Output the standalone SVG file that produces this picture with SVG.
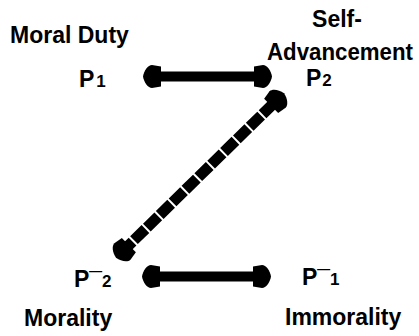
<svg xmlns="http://www.w3.org/2000/svg" width="419" height="336" viewBox="0 0 419 336">
<style>
.lbl{font-family:"Liberation Sans",Arial,sans-serif;font-weight:bold;font-size:23px;fill:#000}
.p{font-family:"Liberation Sans",Arial,sans-serif;font-weight:bold;font-size:23px;fill:#000}
.sub{font-size:17px}
.solid{stroke:#000;stroke-width:10;fill:none}
.dash{stroke:#000;stroke-width:11;fill:none;stroke-dasharray:16 2}
</style>
<defs>
<marker id="head" markerUnits="userSpaceOnUse" viewBox="-19 -12 20 24" refX="-14" refY="0" markerWidth="20" markerHeight="24" orient="auto-start-reverse">
<path d="M0,0 C-1,-6 -5,-11.5 -9,-11.5 L-18,-10 L-18,10 L-9,11.5 C-5,11.5 -1,6 0,0 Z" fill="#000"/>
</marker>
</defs>
<rect width="419" height="336" fill="#fff"/>
<g id="connectors">
<line class="solid" x1="157" y1="76.5" x2="258" y2="76.5" marker-start="url(#head)" marker-end="url(#head)"/>
<line class="solid" x1="156" y1="276.5" x2="257" y2="276.5" marker-start="url(#head)" marker-end="url(#head)"/>
<line class="dash" x1="274" y1="103" x2="126" y2="248" marker-start="url(#head)" marker-end="url(#head)"/>
</g>
<g id="node-p1">
<text class="lbl" x="10" y="43">Moral Duty</text>
<text class="p" x="79" y="87">P<tspan class="sub" dx="2">1</tspan></text>
</g>
<g id="node-p2">
<text class="lbl" x="337" y="27" text-anchor="middle">Self-</text>
<text class="lbl" x="340" y="60" text-anchor="middle" textLength="146" lengthAdjust="spacingAndGlyphs">Advancement</text>
<text class="p" x="306" y="86">P<tspan class="sub" dx="1">2</tspan></text>
</g>
<g id="node-notp2">
<text class="p" x="74" y="287">P<tspan dy="2">¯</tspan><tspan class="sub" dy="-2">2</tspan></text>
<text class="lbl" x="24" y="326">Morality</text>
</g>
<g id="node-notp1">
<text class="p" x="302" y="285">P<tspan dy="2">¯</tspan><tspan class="sub" dy="-2">1</tspan></text>
<text class="lbl" x="285" y="325">Immorality</text>
</g>
</svg>
